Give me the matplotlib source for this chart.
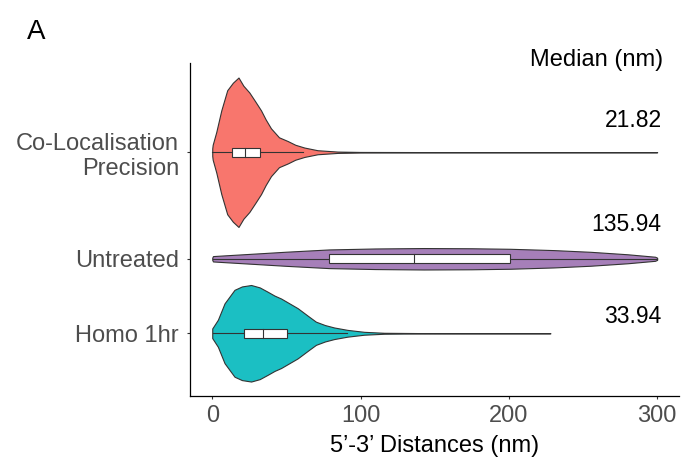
import numpy as np
import matplotlib
matplotlib.use("Agg")
import matplotlib.pyplot as plt
from matplotlib.patches import Rectangle

# =========================
# DATA
# =========================
groups = ["Homo 1hr", "Untreated", "Co-Localisation\nPrecision"]
group_pos = [1.0, 2.0, 3.43]
colors = ["#1BBFC3", "#A67FB9", "#F8766D"]
medians = [33.94, 135.94, 21.82]

# violin outlines: distance (nm) and half-width relative to the peak
homo_d = [0, 3.8, 8.3, 15, 20, 26.2, 32, 37.4, 42, 46.4, 52, 57.6, 65, 69.9,
          76, 82.2, 91.2, 102.4, 115.9, 140, 180, 228]
homo_w = [0.10, 0.28, 0.62, 0.90, 0.97, 1.0, 0.95, 0.86, 0.78, 0.72, 0.62, 0.52,
          0.35, 0.24, 0.17, 0.12, 0.07, 0.03, 0.01, 0.004, 0.003, 0.002]

untr_d = [0, 0.5, 10, 30.7, 50, 78.7, 110, 142.6, 175, 201, 230, 255, 280, 298.6, 300]
untr_w = [0.10, 0.25, 0.33, 0.50, 0.66, 0.87, 0.96, 1.0, 0.98, 0.93, 0.81, 0.65,
          0.42, 0.19, 0.10]

coloc_d = [0, 0.3, 2.7, 6.1, 10.1, 13.9, 17.7, 21, 25, 29, 32.9, 36, 39.6, 45,
           50.9, 56, 62.1, 71, 84.5, 100, 150, 200, 250, 300]
coloc_w = [0.05, 0.10, 0.27, 0.56, 0.83, 0.93, 1.0, 0.89, 0.80, 0.68, 0.56, 0.44,
           0.32, 0.20, 0.15, 0.10, 0.063, 0.027, 0.009, 0.004, 0.002, 0.0015,
           0.0012, 0.001]

profiles_d = [homo_d, untr_d, coloc_d]
profiles_w = [homo_w, untr_w, coloc_w]
peak_width = [0.648, 0.144, 1.003]

# box stats: lower whisker, q1, median, q3, upper whisker
box_stats = [
    [0.5, 21.7, 33.94, 50.4, 91.2],
    [0.5, 78.9, 135.94, 200.6, 300],
    [0.0, 13.4, 21.82, 32.5, 61.0],
]

# =========================
# PLOT
# =========================
plt.rcParams["font.family"] = ["Liberation Sans", "DejaVu Sans"]

fig = plt.figure(figsize=(6.87, 4.65), dpi=100)
ax = fig.add_axes([190 / 687, 1 - 395.7 / 465, (679.4 - 190) / 687, (395.7 - 63) / 465])

edge = "#333333"
box_half = 0.058

for i in range(len(groups)):
    pos = group_pos[i]
    d = np.array(profiles_d[i])
    w = np.array(profiles_w[i]) * peak_width[i]
    ax.fill_between(d, pos - w, pos + w, facecolor=colors[i], edgecolor=edge,
                    linewidth=0.8, zorder=2)

    lo, q1, med, q3, hi = box_stats[i]
    ax.plot([lo, q1], [pos, pos], color=edge, lw=0.8, zorder=3)
    ax.plot([q3, hi], [pos, pos], color=edge, lw=0.8, zorder=3)
    ax.add_patch(Rectangle((q1, pos - box_half), q3 - q1, 2 * box_half,
                           facecolor="white", edgecolor=edge, lw=0.8, zorder=4))
    ax.plot([med, med], [pos - box_half, pos + box_half], color=edge, lw=0.8, zorder=5)

ax.set_xlim(-15, 315)
ax.set_ylim(0.162, 4.628)
ax.set_xticks([0, 100, 200, 300])
ax.set_yticks(group_pos)
ax.set_yticklabels(groups, ha="right")

for s in ["top", "right"]:
    ax.spines[s].set_visible(False)
for s in ["left", "bottom"]:
    ax.spines[s].set_linewidth(0.9)
    ax.spines[s].set_color("black")

ax.tick_params(axis="both", colors="#333333", labelcolor="#4D4D4D",
               labelsize=17, length=2.5, width=0.8)
ax.tick_params(axis="x", pad=4)
ax.tick_params(axis="y", pad=5.5)

ax.set_xlabel("5\u2019-3\u2019 Distances (nm)", fontsize=17, color="black", labelpad=6)

# median labels on the right
label_base = [322.7, 231, 127.3]
for i in range(len(groups)):
    fig.text(661.5 / 687, 1 - label_base[i] / 465, f"{medians[i]:.2f}",
             ha="right", va="baseline", fontsize=16.5, color="black")
fig.text(663 / 687, 1 - 66 / 465, "Median (nm)", ha="right", va="baseline",
         fontsize=17, color="black")

fig.text(27 / 687, 1 - 39 / 465, "A", ha="left", va="baseline", fontsize=20, color="black")

fig.savefig("out.png", dpi=100)
